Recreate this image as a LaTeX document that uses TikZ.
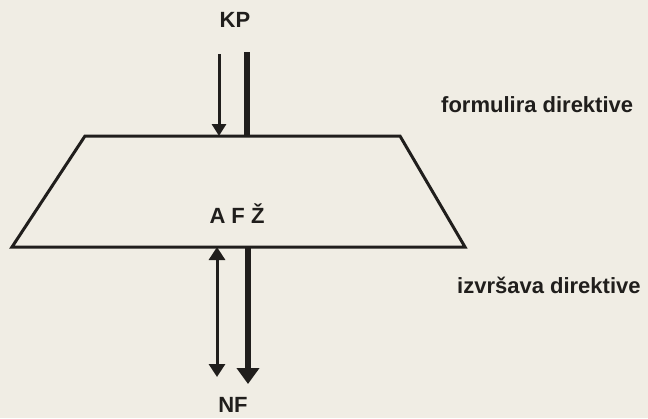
\documentclass[tikz,border=0pt]{standalone}
\usepackage{fontspec}
\setmainfont{Liberation Sans}
\usetikzlibrary{positioning,arrows.meta}
\definecolor{paper}{RGB}{240,237,228}
\definecolor{ink}{RGB}{32,30,28}

\begin{document}
\begin{tikzpicture}[x=1pt, y=-1pt,
  font=\fontsize{22}{26}\selectfont\bfseries,
  thinline/.style={draw=ink, line width=3pt},
  thickline/.style={draw=ink, line width=6pt},
  tag/.style={text=ink, inner sep=0pt}]
  \fill[paper] (0,0) rectangle (648,418);
  \useasboundingbox (0,0) rectangle (648,418);
  % the block
  \coordinate (tl) at (85,136);
  \coordinate (tr) at (400,136);
  \coordinate (br) at (465,247);
  \coordinate (bl) at (12,247);
  \draw[thinline, line join=miter] (tl) -- (tr) -- (br) -- (bl) -- cycle;
  \node[tag] (afz) at (237,214) {A F Ž};
  % labels
  \node[tag] (kp) at (235,20) {KP};
  \node[tag, anchor=south] (nf) at (233,413) {NF};
  \node[tag, anchor=west] (form) at (441,105) {formulira direktive};
  \node[tag, anchor=west] (izv) at (457,285) {izvršava direktive};
  % connectors
  \coordinate (kpl) at (219,54);
  \coordinate (kpr) at (247,52);
  \coordinate (nfl) at (217,377);
  \coordinate (nfr) at (248,384);
  \draw[thinline, -{Triangle[length=12pt,width=14pt]}] (kpl) -- (kpl |- tl);
  \draw[thickline] (kpr) -- (kpr |- tl);
  \draw[thinline, {Triangle[length=13pt,width=16pt]}-{Triangle[length=13pt,width=16pt]}]
    (nfl |- bl) -- (nfl);
  \draw[thickline, -{Triangle[length=16pt,width=22pt]}] (nfr |- bl) -- (nfr);
\end{tikzpicture}
\end{document}
